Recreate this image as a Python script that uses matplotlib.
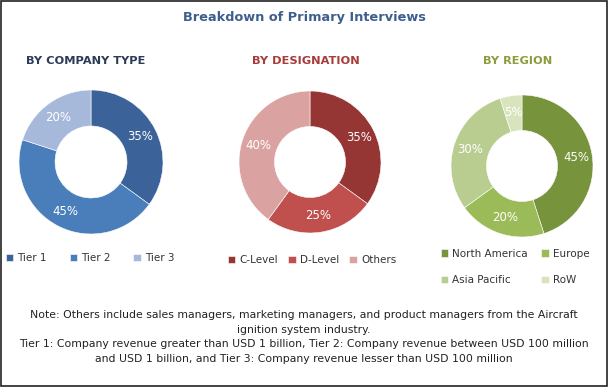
import matplotlib.pyplot as plt
from matplotlib.patches import Rectangle

W, H = 608, 387

title = 'Breakdown of Primary Interviews'

company_labels = ['Tier 1', 'Tier 2', 'Tier 3']
company_values = [35, 45, 20]
company_colors = ['#3B6399', '#4A7EBB', '#A7B9DB']

desig_labels = ['C-Level', 'D-Level', 'Others']
desig_values = [35, 25, 40]
desig_colors = ['#963634', '#C0504D', '#DAA3A2']

region_labels = ['North America', 'Europe', 'Asia Pacific', 'RoW']
region_values = [45, 20, 30, 5]
region_colors = ['#77933C', '#9BBB59', '#B9CD91', '#D8E4BE']

note = ('Note: Others include sales managers, marketing managers, and product managers from the Aircraft\n'
        'ignition system industry.\n'
        'Tier 1: Company revenue greater than USD 1 billion, Tier 2: Company revenue between USD 100 million\n'
        'and USD 1 billion, and Tier 3: Company revenue lesser than USD 100 million')

fig = plt.figure(figsize=(W / 100, H / 100), dpi=100)
fig.patches.append(Rectangle((0.002, 0.003), 0.996, 0.994, transform=fig.transFigure,
                             fill=False, edgecolor='#222222', linewidth=1.2))


def px_axes(cx, cy, r):
    return fig.add_axes([(cx - r) / W, (H - cy - r) / H, 2 * r / W, 2 * r / H])


def donut(ax, values, colors):
    wedges, _, autotexts = ax.pie(values, colors=colors, startangle=90, counterclock=False,
                                  radius=1, autopct='%d%%', pctdistance=0.77,
                                  wedgeprops=dict(width=0.5, edgecolor='white', linewidth=0.4),
                                  textprops=dict(color='white', fontsize=8.5))
    ax.set_xlim(-1, 1)
    ax.set_ylim(-1, 1)
    ax.set_aspect('equal')
    ax.axis('off')
    return wedges


fig.text(0.5, 1 - 17 / H, title, ha='center', va='center', fontsize=9.3,
         fontweight='bold', color='#3E5E8E')
sub_kw = dict(ha='center', va='center', fontsize=8.2, fontweight='bold')
fig.text(86 / W, 1 - 61 / H, 'BY COMPANY TYPE', color='#2B3B58', **sub_kw)
fig.text(306 / W, 1 - 61 / H, 'BY DESIGNATION', color='#A83C3A', **sub_kw)
fig.text(518 / W, 1 - 61 / H, 'BY REGION', color='#8E9C3E', **sub_kw)

ax1 = px_axes(91, 162, 72)
w1 = donut(ax1, company_values, company_colors)
ax2 = px_axes(310, 162, 71)
w2 = donut(ax2, desig_values, desig_colors)
ax3 = px_axes(522, 166, 71)
w3 = donut(ax3, region_values, region_colors)

leg_kw = dict(frameon=False, fontsize=7.5, handlelength=0.7, handleheight=0.7,
              handletextpad=0.4, borderaxespad=0, labelcolor='#333333')
fig.legend(w1, company_labels, loc='center', bbox_to_anchor=(90 / W, 1 - 258 / H),
           ncol=3, columnspacing=2.2, **leg_kw)
fig.legend(w2, desig_labels, loc='center', bbox_to_anchor=(312 / W, 1 - 260 / H),
           ncol=3, columnspacing=1.0, **leg_kw)
# legend fills column by column, so order handles to read row-wise
order = [0, 2, 1, 3]
fig.legend([w3[i] for i in order], [region_labels[i] for i in order], loc='center',
           bbox_to_anchor=(515 / W, 1 - 267 / H),
           ncol=2, columnspacing=1.3, labelspacing=1.6, **leg_kw)

fig.text(0.5, 1 - 337 / H, note, ha='center', va='center', fontsize=7.8,
         color='#222222', linespacing=1.6)

fig.savefig('out.png', dpi=100)
